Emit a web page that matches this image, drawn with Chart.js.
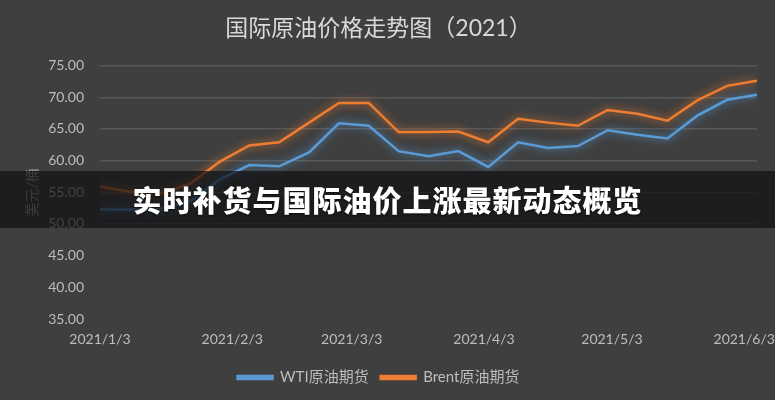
<!DOCTYPE html>
<html>
<head>
<meta charset="utf-8">
<script src="https://cdn.jsdelivr.net/npm/chart.js@4/dist/chart.umd.min.js"></script>
<style>
  body { margin: 0; background: #3f3f3f; }
  #wrap { position: relative; width: 775px; height: 400px; overflow: hidden; }
  #banner {
    position: absolute; left: 0; top: 171px; width: 775px; height: 57px;
    background: rgba(16, 17, 19, 0.72);
    color: #fff; font-family: "Noto Sans CJK SC", sans-serif; font-weight: 900;
    font-size: 29px; line-height: 57px; text-align: center; letter-spacing: 1px;
    text-shadow: 0 1px 2px rgba(0,0,0,0.6);
  }
</style>
</head>
<body>
<div id="wrap">
  <canvas id="myChart" width="775" height="400"></canvas>
  <div id="banner">实时补货与国际油价上涨最新动态概览</div>
</div>
<script>
// weekly closing dates
let dates = ["2021/1/3", "2021/1/10", "2021/1/17", "2021/1/24", "2021/1/31",
	"2021/2/7", "2021/2/14", "2021/2/21", "2021/2/28", "2021/3/7", "2021/3/14",
	"2021/3/21", "2021/3/28", "2021/4/4", "2021/4/11", "2021/4/18", "2021/4/25",
	"2021/5/2", "2021/5/9", "2021/5/16", "2021/5/23", "2021/5/30", "2021/6/6"];
let wti = [52.3, 52.3, 52.4, 53.5, 57.0, 59.3, 59.1, 61.3, 65.9, 65.5, 61.5, 60.7,
	61.5, 59.0, 62.9, 62.0, 62.3, 64.8, 64.1, 63.5, 67.1, 69.6, 70.4];
let brent = [55.9, 55.1, 54.8, 56.3, 59.8, 62.4, 62.9, 66.0, 69.1, 69.1, 64.5, 64.5,
	64.6, 62.9, 66.6, 66.0, 65.5, 68.0, 67.4, 66.3, 69.5, 71.8, 72.6];
let tickLabels = ["2021/1/3", "2021/2/3", "2021/3/3", "2021/4/3", "2021/5/3", "2021/6/3"];

const FONT = 'Lato, "Noto Sans CJK SC", sans-serif';

function dayOf(s) {
	let p = s.split("/").map(Number);
	let p0 = dates[0].split("/").map(Number);
	return (Date.UTC(p[0], p[1] - 1, p[2]) - Date.UTC(p0[0], p0[1] - 1, p0[2])) / 86400000;
}

let xDays = dates.map(dayOf);
let tickDays = tickLabels.map(dayOf);

const glow = {
	id: "glow",
	beforeDatasetDraw(chart, args) {
		let ctx = chart.ctx;
		ctx.save();
		ctx.shadowColor = args.meta.dataset.options.borderColor;
		ctx.shadowBlur = 9;
	},
	afterDatasetDraw(chart) {
		chart.ctx.restore();
	}
};

let config = {
	type: "line",
	data: {
		datasets: [{
			label: "WTI原油期货",
			data: wti.map((v, i) => ({ x: xDays[i], y: v })),
			borderColor: "#5b9bd5",
			backgroundColor: "#5b9bd5",
			borderWidth: 2.5,
			pointRadius: 0,
			tension: 0
		}, {
			label: "Brent原油期货",
			data: brent.map((v, i) => ({ x: xDays[i], y: v })),
			borderColor: "#ed7d31",
			backgroundColor: "#ed7d31",
			borderWidth: 2.5,
			pointRadius: 0,
			tension: 0
		}]
	},
	options: {
		responsive: false,
		animation: false,
		layout: { padding: { left: 0, right: 18, top: 0, bottom: 5 } },
		plugins: {
			title: {
				display: true,
				text: "国际原油价格走势图（2021）",
				color: "#d9d9d9",
				font: { family: FONT, size: 23, weight: "normal" },
				padding: { top: 15, bottom: 23 }
			},
			legend: {
				position: "bottom",
				labels: {
					color: "#bdbdbd",
					font: { family: FONT, size: 15 },
					boxWidth: 35,
					boxHeight: 3,
					padding: 12
				}
			},
			tooltip: { enabled: false }
		},
		scales: {
			x: {
				type: "linear",
				min: xDays[0],
				max: xDays[xDays.length - 1],
				grid: { display: false, drawTicks: false },
				border: { display: false },
				afterBuildTicks: (scale) => { scale.ticks = tickDays.map(v => ({ value: v })); },
				afterFit: (scale) => {
					scale.height = 39;
					scale.paddingLeft = 0;
					scale.paddingRight = 0;
				},
				ticks: {
					autoSkip: false,
					maxRotation: 0,
					padding: 12,
					color: "#bdbdbd",
					font: { family: FONT, size: 14 },
					callback: (v) => tickLabels[tickDays.indexOf(v)]
				}
			},
			y: {
				min: 35,
				max: 75,
				border: { display: false },
				grid: {
					drawTicks: false,
					color: (c) => c.tick && c.tick.value >= 50 ? "#575757" : "transparent",
					lineWidth: 1.5
				},
				afterFit: (scale) => { scale.width = 100; },
				ticks: {
					stepSize: 5,
					padding: 16,
					color: "#bdbdbd",
					font: { family: FONT, size: 14 },
					callback: (v) => v.toFixed(2)
				},
				title: {
					display: true,
					text: "美元/桶",
					color: "#a6a6a6",
					font: { family: FONT, size: 14 },
					padding: { top: 24, bottom: 0 }
				}
			}
		}
	},
	plugins: [glow]
};

let chart = new Chart("myChart", config);
</script>
</body>
</html>
